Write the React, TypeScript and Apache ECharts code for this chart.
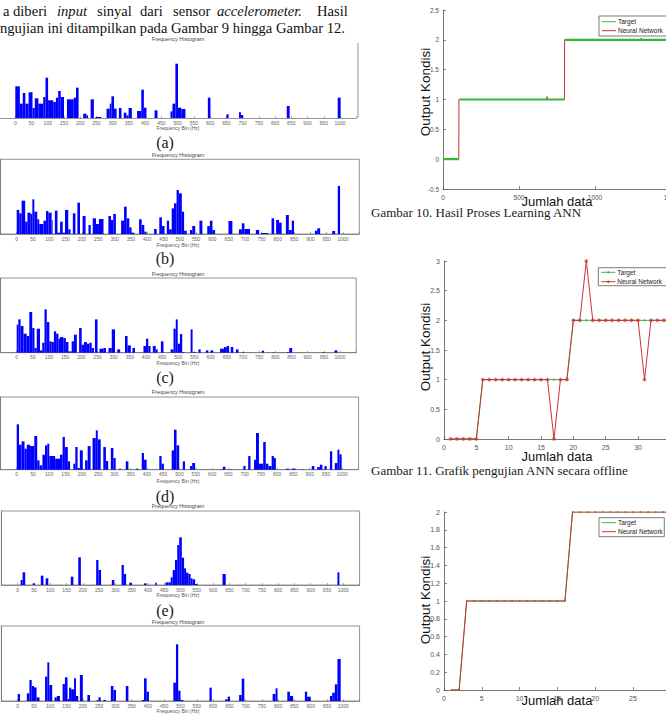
import React, { useEffect, useRef } from "react";
import * as echarts from "echarts";

// ---------- DATA ----------
// Histogram bars: [startHz, endHz, count]
const histA: number[][] = [
  [0, 14, 95], [14, 23, 43], [23, 31, 75], [31, 41, 43], [41, 53, 77], [53, 60, 30], [60, 71, 59], [71, 86, 43],
  [86, 93, 63], [93, 101, 121], [101, 117, 53], [117, 125, 48], [125, 132, 61], [132, 140, 81], [140, 150, 63],
  [159, 180, 56], [180, 187, 61], [187, 195, 91], [209, 219, 13], [219, 224, 8], [232, 242, 56], [247, 265, 3],
  [281, 291, 28], [291, 296, 43], [296, 304, 65], [304, 312, 28], [319, 327, 30], [334, 342, 16], [342, 349, 8],
  [349, 359, 30], [375, 388, 21], [388, 396, 85], [396, 404, 31], [429, 438, 23], [478, 484, 20], [484, 493, 43],
  [493, 501, 163], [501, 511, 31], [511, 524, 27], [593, 601, 61], [650, 657, 11], [689, 695, 17], [695, 702, 9],
  [836, 845, 36], [993, 1002, 61],
];
const histB: number[][] = [
  [0, 8, 72], [8, 15, 62], [15, 26, 100], [26, 33, 37], [33, 43, 64], [43, 48, 60], [48, 54, 104], [54, 63, 67],
  [63, 69, 44], [69, 82, 30], [82, 90, 40], [90, 97, 69], [97, 107, 64], [107, 110, 42], [117, 125, 70], [125, 133, 4],
  [133, 141, 37], [141, 148, 4], [148, 158, 72], [158, 165, 14], [172, 180, 62], [186, 194, 94], [202, 211, 54],
  [220, 227, 27], [233, 243, 47], [243, 252, 30], [252, 266, 45], [281, 289, 54], [289, 296, 42], [296, 304, 60],
  [320, 329, 40], [329, 337, 82], [337, 345, 47], [345, 352, 20], [352, 361, 4], [375, 383, 44], [383, 391, 27],
  [391, 398, 7], [421, 429, 15], [437, 445, 50], [445, 453, 24], [460, 467, 40], [467, 475, 14], [475, 482, 77],
  [482, 490, 92], [490, 497, 132], [497, 506, 122], [506, 513, 67], [513, 521, 10], [531, 538, 12], [538, 547, 24],
  [560, 569, 40], [584, 592, 24], [592, 600, 40], [600, 608, 12], [649, 661, 39], [681, 690, 14], [690, 698, 32],
  [698, 715, 15], [733, 743, 12], [749, 771, 3], [781, 789, 47], [795, 804, 42], [804, 812, 34], [825, 834, 57],
  [834, 843, 12], [843, 850, 40], [914, 921, 10], [921, 930, 17], [967, 976, 9], [984, 991, 144],
];
const histC: number[][] = [
  [0, 5, 84], [5, 12, 100], [12, 21, 80], [21, 31, 57], [31, 39, 50], [39, 48, 122], [48, 55, 74], [55, 62, 14],
  [62, 72, 72], [72, 79, 7], [79, 86, 30], [86, 93, 130], [93, 101, 92], [101, 108, 34], [108, 115, 32], [115, 122, 64],
  [122, 129, 57], [129, 134, 42], [134, 144, 47], [144, 152, 44], [152, 160, 32], [160, 170, 4], [170, 177, 34],
  [177, 186, 54], [193, 201, 74], [201, 208, 24], [208, 217, 32], [217, 225, 27], [225, 232, 30], [232, 239, 14],
  [242, 250, 100], [256, 268, 12], [268, 276, 14], [284, 294, 14], [294, 304, 70], [311, 320, 10], [335, 343, 50],
  [343, 353, 22], [358, 366, 14], [392, 400, 20], [400, 407, 42], [407, 414, 20], [421, 430, 20], [430, 436, 10],
  [446, 454, 34], [476, 485, 10], [485, 492, 72], [492, 498, 100], [498, 505, 27], [505, 512, 56], [512, 519, 2],
  [538, 544, 70], [546, 554, 2], [562, 569, 10], [585, 593, 7], [600, 608, 7], [629, 641, 12], [641, 650, 17],
  [650, 657, 20], [662, 670, 17], [678, 686, 10], [699, 703, 2], [758, 765, 6], [792, 796, 2], [835, 843, 2],
  [843, 852, 14], [946, 951, 2], [983, 992, 7],
];
const histD: number[][] = [
  [0, 7, 136], [7, 15, 75], [15, 24, 85], [24, 31, 63], [31, 41, 75], [41, 54, 71], [54, 63, 101], [63, 70, 28],
  [70, 79, 13], [79, 87, 45], [87, 94, 73], [94, 100, 78], [100, 118, 41], [118, 133, 33], [133, 141, 45],
  [141, 148, 98], [148, 157, 68], [157, 164, 25], [174, 180, 18], [180, 187, 68], [187, 194, 5], [194, 203, 58],
  [203, 210, 1], [210, 218, 28], [218, 227, 71], [233, 243, 95], [243, 249, 118], [249, 258, 91], [266, 274, 68],
  [274, 281, 26], [289, 297, 65], [297, 304, 35], [314, 320, 3], [335, 343, 25], [366, 374, 3], [384, 391, 50],
  [391, 399, 30], [438, 445, 41], [445, 452, 18], [476, 483, 58], [483, 491, 120], [491, 499, 73], [510, 517, 25],
  [532, 539, 11], [539, 548, 20], [624, 633, 1], [633, 641, 9], [655, 662, 1], [696, 703, 11], [711, 718, 41],
  [729, 735, 30], [735, 744, 110], [744, 757, 18], [757, 765, 83], [765, 773, 18], [773, 783, 11], [783, 790, 41],
  [790, 796, 35], [827, 837, 3], [844, 858, 3], [875, 882, 1], [906, 914, 11], [923, 931, 8], [931, 939, 15],
  [945, 952, 11], [962, 969, 55], [977, 985, 20], [985, 991, 60], [991, 998, 46],
];
const histE: number[][] = [
  [9, 15, 15], [15, 23, 38], [46, 53, 5], [71, 79, 28], [86, 94, 20], [163, 171, 25], [186, 194, 83], [241, 248, 75],
  [248, 256, 45], [289, 297, 15], [319, 326, 60], [326, 333, 33], [343, 351, 7], [388, 396, 5], [422, 427, 7],
  [454, 463, 8], [463, 470, 8], [470, 476, 23], [476, 483, 45], [483, 490, 75], [490, 496, 120], [496, 504, 143],
  [504, 511, 82], [511, 517, 50], [517, 524, 37], [524, 531, 33], [531, 537, 20], [537, 545, 17], [545, 552, 3],
  [629, 639, 33], [982, 988, 38],
];
const histF: number[][] = [
  [0, 7, 21], [28, 36, 23], [36, 43, 63], [43, 50, 45], [50, 58, 41], [58, 67, 11], [84, 91, 73], [91, 97, 116],
  [97, 106, 48], [113, 120, 11], [120, 130, 15], [138, 145, 51], [145, 153, 71], [153, 158, 6], [158, 164, 40],
  [164, 173, 35], [173, 179, 68], [179, 186, 15], [191, 200, 78], [214, 222, 18], [243, 248, 3], [248, 255, 11],
  [263, 271, 3], [286, 294, 45], [294, 302, 33], [332, 340, 45], [381, 388, 3], [388, 396, 68], [396, 403, 28],
  [478, 486, 55], [486, 493, 170], [493, 500, 31], [500, 509, 3], [589, 596, 40], [637, 645, 5], [645, 652, 13],
  [680, 688, 18], [688, 696, 67], [783, 792, 21], [792, 798, 38], [828, 836, 28], [836, 846, 15], [882, 889, 28],
  [889, 900, 13], [959, 966, 15], [966, 974, 25], [974, 982, 50], [982, 992, 126],
];
const histograms = [histA, histB, histC, histD, histE, histF];
const histCaptions = ["(a)", "(b)", "(c)", "(d)", "(e)", ""];
const histTitle = "Frequency Histogram";
const histXName = "Frequency Bin (Hz)";

// Gambar 10 (learning): [index, output]
const fig10Target: (number | null)[][] = [[0, 0], [104, 0], [104.5, null], [105, 1], [799, 1], [799.5, null], [800, 2], [1500, 2]];
const fig10NN: number[][] = [[0, 0], [104, 0], [105, 1], [683, 1], [684, 1.05], [685, 1], [799, 1], [800, 2], [1303, 2], [1304, 2.03], [1305, 1.98], [1306, 2], [1500, 2]];

// Gambar 11 (offline test)
const fig11X = [1, 2, 3, 4, 5, 6, 7, 8, 9, 10, 11, 12, 13, 14, 15, 16, 17, 18, 19, 20, 21, 22, 23, 24, 25, 26, 27, 28, 29, 30, 31, 32, 33, 34, 35];
const fig11Target = [0, 0, 0, 0, 0, 1, 1, 1, 1, 1, 1, 1, 1, 1, 1, 1, 1, 1, 1, 2, 2, 2, 2, 2, 2, 2, 2, 2, 2, 2, 2, 2, 2, 2, 2];
const fig11NN = [0, 0, 0, 0, 0, 1, 1, 1, 1, 1, 1, 1, 1, 1, 1, 1, 0, 1, 1, 2, 2, 3, 2, 2, 2, 2, 2, 2, 2, 2, 1, 2, 2, 2, 2];

// Gambar 12
const fig12X = [1, 2, 3, 4, 5, 6, 7, 8, 9, 10, 11, 12, 13, 14, 15, 16, 17, 18, 19, 20, 21, 22, 23, 24, 25, 26, 27, 28, 29, 30];
const fig12Target = [0, 0, 1, 1, 1, 1, 1, 1, 1, 1, 1, 1, 1, 1, 1, 1, 2, 2, 2, 2, 2, 2, 2, 2, 2, 2, 2, 2, 2, 2];
const fig12NN = [0, 0, 1, 1, 1, 1, 1, 1, 1, 1, 1, 1, 1, 1, 1, 1, 2, 2, 2, 2, 2, 2, 2, 2, 2, 2, 2, 2, 2, 2];

// ---------- LAYOUT ----------
const HIST_BOX = [
  { top: 43, base: 118, x0: 15.3, x1: 340, titleY: 38.5, nameY: 128, capY: 142, frame: false },
  { top: 159.3, base: 234, x0: 16.7, x1: 343, titleY: 154.7, nameY: 245, capY: 258, frame: true },
  { top: 278, base: 352.7, x0: 16.7, x1: 340, titleY: 274, nameY: 362.7, capY: 377, frame: true },
  { top: 397, base: 469.7, x0: 16.7, x1: 342.3, titleY: 391.5, nameY: 481, capY: 496, frame: true },
  { top: 511, base: 585, x0: 17.7, x1: 343.3, titleY: 506, nameY: 595, capY: 610, frame: true },
  { top: 626, base: 701, x0: 17.7, x1: 343.3, titleY: 622, nameY: 710.7, capY: 0, frame: true },
];
const LINE_BOX = [
  { left: 443, top: 10, width: 228, height: 179, xmax: 1500, xint: 500, ymin: -0.5, ymax: 2.5, yint: 0.5, fs: 6.5, ylab: 92, xlab: 201 },
  { left: 444, top: 261, width: 226.4, height: 178, xmax: 35, xint: 5, ymin: 0, ymax: 3, yint: 0.5, fs: 7, ylab: 347, xlab: 456 },
  { left: 444, top: 512, width: 226.8, height: 178, xmax: 30, xint: 5, ymin: 0, ymax: 2, yint: 0.2, fs: 7, ylab: 600, xlab: 700 },
];

const BLUE = "#0000ff";
const GREEN = "#35b935";
const RED = "#cc3333";
const SANS = '"Liberation Sans", Arial, sans-serif';
const SERIF = '"Liberation Serif", "Times New Roman", serif';

function txt(text: string, x: number, y: number, font: string, fill: string, align: string): any {
  return {
    type: "text",
    x,
    y,
    style: { text, font, fill, align, verticalAlign: "middle", textAlign: align, textVerticalAlign: "middle" },
  };
}

function buildOption() {
  const grid: any[] = [];
  const xAxis: any[] = [];
  const yAxis: any[] = [];
  const series: any[] = [];
  const graphic: any[] = [];

  HIST_BOX.forEach((b, i) => {
    const k = (b.x1 - b.x0) / 1000;
    grid.push({
      left: b.x0 - 50 * k,
      top: b.top,
      width: 1100 * k,
      height: b.base - b.top,
      show: b.frame,
      borderColor: "#777",
      borderWidth: 0.8,
      containLabel: false,
      outerBoundsMode: "none",
    });
    xAxis.push({
      type: "value",
      gridIndex: i,
      min: -50,
      max: 1050,
      interval: 50,
      axisLine: { show: true, onZero: false, lineStyle: { color: "#777", width: 0.8 } },
      axisTick: { show: true, inside: true, length: 2, lineStyle: { color: "#777", width: 0.6 } },
      axisLabel: {
        fontSize: 5,
        color: "#666",
        margin: 2,
        fontFamily: SANS,
        formatter: (v: number) => (v < 0 || v > 1000 ? "" : String(v)),
      },
      splitLine: { show: false },
    });
    yAxis.push({
      type: "value",
      gridIndex: i,
      min: 0,
      max: 3 * (b.base - b.top),
      axisLine: { show: b.frame, onZero: false, lineStyle: { color: "#777", width: 0.8 } },
      axisTick: { show: false },
      axisLabel: { show: false },
      splitLine: { show: false },
    });
    series.push({
      type: "custom",
      xAxisIndex: i,
      yAxisIndex: i,
      data: histograms[i],
      encode: { x: [0, 1], y: 2 },
      renderItem: (params: any, api: any) => {
        const p0 = api.coord([api.value(0), api.value(2)]);
        const p1 = api.coord([api.value(1), 0]);
        return {
          type: "rect",
          shape: { x: p0[0], y: p0[1], width: p1[0] - p0[0], height: p1[1] - p0[1] },
          style: { fill: BLUE },
        };
      },
    });
    graphic.push(txt(histTitle, 178, b.titleY, `5.5px ${SANS}`, "#444", "center"));
    graphic.push(txt(histXName, 178, b.nameY, `5px ${SANS}`, "#555", "center"));
    if (histCaptions[i]) graphic.push(txt(histCaptions[i], 165, b.capY, `16px ${SERIF}`, "#1a1a1a", "center"));
  });
  // right border of (a)
  graphic.push({ type: "line", shape: { x1: 358, y1: 43, x2: 358, y2: 118 }, style: { stroke: "#777", lineWidth: 0.8 } });

  LINE_BOX.forEach((b, j) => {
    const gi = 6 + j;
    grid.push({ left: b.left, top: b.top, width: b.width, height: b.height, show: false, containLabel: false, outerBoundsMode: "none" });
    xAxis.push({
      type: "value",
      gridIndex: gi,
      min: 0,
      max: b.xmax,
      interval: b.xint,
      axisLine: { show: true, onZero: false, lineStyle: { color: "#555", width: 0.8 } },
      axisTick: { show: true, inside: true, length: 3, lineStyle: { color: "#555", width: 0.7 } },
      axisLabel: { fontSize: b.fs, color: "#555", margin: 5, fontFamily: SANS, formatter: (v: number) => String(v) },
      splitLine: { show: false },
    });
    yAxis.push({
      type: "value",
      gridIndex: gi,
      min: b.ymin,
      max: b.ymax,
      interval: b.yint,
      axisLine: { show: true, onZero: false, lineStyle: { color: "#555", width: 0.8 } },
      axisTick: { show: true, inside: true, length: 3, lineStyle: { color: "#555", width: 0.7 } },
      axisLabel: { fontSize: b.fs, color: "#555", margin: 4, fontFamily: SANS },
      splitLine: { show: false },
    });
    graphic.push({
      type: "text",
      x: 425,
      y: b.ylab,
      rotation: Math.PI / 2,
      style: { text: "Output Kondisi", font: `13.5px ${SANS}`, fill: "#111", align: "center", verticalAlign: "middle", textAlign: "center", textVerticalAlign: "middle" },
    });
    graphic.push(txt("Jumlah data", 557, b.xlab, `13px ${SANS}`, "#111", "center"));
  });

  // Gambar 10 series
  series.push({
    type: "line", xAxisIndex: 6, yAxisIndex: 6, data: fig10NN, showSymbol: false, symbol: "none",
    lineStyle: { color: RED, width: 1 }, z: 2,
  });
  series.push({
    type: "line", xAxisIndex: 6, yAxisIndex: 6, data: fig10Target, showSymbol: false, symbol: "none",
    connectNulls: false, lineStyle: { color: GREEN, width: 2.2 }, z: 3,
  });
  // Gambar 11 series
  series.push({
    type: "line", xAxisIndex: 7, yAxisIndex: 7,
    data: fig11X.map((x, i) => [x, fig11Target[i]]),
    symbol: "path://M1 0L1 2M0 1L2 1", symbolSize: 3,
    itemStyle: { color: GREEN, borderColor: GREEN, borderWidth: 0.7 },
    lineStyle: { color: GREEN, width: 1 }, z: 2,
  });
  series.push({
    type: "line", xAxisIndex: 7, yAxisIndex: 7,
    data: fig11X.map((x, i) => [x, fig11NN[i]]),
    symbol: "path://M1 0L1 2M0 1L2 1M0.3 0.3L1.7 1.7M0.3 1.7L1.7 0.3", symbolSize: 4,
    itemStyle: { color: RED, borderColor: RED, borderWidth: 0.7 },
    lineStyle: { color: RED, width: 1 }, z: 3,
  });
  // Gambar 12 series
  series.push({
    type: "line", xAxisIndex: 8, yAxisIndex: 8,
    data: fig12X.map((x, i) => [x, fig12Target[i]]),
    symbol: "none", lineStyle: { color: GREEN, width: 1 }, z: 2,
  });
  series.push({
    type: "line", xAxisIndex: 8, yAxisIndex: 8,
    data: fig12X.map((x, i) => [x, fig12NN[i]]),
    symbol: "circle", symbolSize: 1.5,
    itemStyle: { color: RED },
    lineStyle: { color: RED, width: 1 }, z: 3,
  });

  // legends
  const legends = [
    { L: 599, T: 16, W: 72, H: 20, r1: 21.7, r2: 30.7, mk: false },
    { L: 598.3, T: 267.7, W: 72, H: 18, r1: 272.3, r2: 281.7, mk: true },
    { L: 599, T: 517.7, W: 65.3, H: 19, r1: 522.7, r2: 531.7, mk: false },
  ];
  legends.forEach((g) => {
    graphic.push({ type: "rect", z: 100, shape: { x: g.L, y: g.T, width: g.W, height: g.H }, style: { fill: "#fff", stroke: "#444", lineWidth: 0.7 } });
    graphic.push({ type: "line", z: 101, shape: { x1: g.L + 3, y1: g.r1, x2: g.L + 17, y2: g.r1 }, style: { stroke: GREEN, lineWidth: 1 } });
    graphic.push({ type: "line", z: 101, shape: { x1: g.L + 3, y1: g.r2, x2: g.L + 17, y2: g.r2 }, style: { stroke: RED, lineWidth: 1 } });
    if (g.mk) {
      graphic.push({ type: "circle", z: 102, shape: { cx: g.L + 10, cy: g.r1, r: 1 }, style: { fill: GREEN } });
      graphic.push({ type: "circle", z: 102, shape: { cx: g.L + 10, cy: g.r2, r: 1.2 }, style: { fill: RED } });
    }
    const t1 = txt("Target", g.L + 19, g.r1, `6.5px ${SANS}`, "#222", "left");
    const t2 = txt("Neural Network", g.L + 19, g.r2, `6.5px ${SANS}`, "#222", "left");
    t1.z = 102; t2.z = 102;
    graphic.push(t1, t2);
  });

  // captions on the right
  graphic.push(txt("Gambar 10. Hasil Proses Learning ANN", 371, 212, `13px ${SERIF}`, "#1a1a1a", "left"));
  graphic.push(txt("Gambar 11. Grafik pengujian ANN secara offline", 371, 470, `13px ${SERIF}`, "#1a1a1a", "left"));
  graphic.push(txt("Gambar 12. Grafik pengujian ANN secara online", 371, 721, `13px ${SERIF}`, "#1a1a1a", "left"));

  // body text at top-left
  const words: [string, number, boolean][] = [
    ["a", 3, false], ["diberi", 13, false], ["input", 57, true], ["sinyal", 97, false],
    ["dari", 140, false], ["sensor", 173, false], ["accelerometer.", 217, true], ["Hasil", 317, false],
  ];
  words.forEach(([w, x, it]) => graphic.push(txt(w, x, 10.5, `${it ? "italic " : ""}14.6px ${SERIF}`, "#111", "left")));
  graphic.push(txt("ngujian ini ditampilkan pada Gambar 9 hingga Gambar 12.", 0, 27.5, `14.6px ${SERIF}`, "#111", "left"));

  return { animation: false, backgroundColor: "#fff", grid, xAxis, yAxis, series, graphic };
}

export default function App() {
  const ref = useRef<HTMLDivElement>(null);
  useEffect(() => {
    if (!ref.current) return;
    const chart = echarts.init(ref.current, undefined, { renderer: "svg" });
    chart.setOption(buildOption() as any);
    return () => chart.dispose();
  }, []);
  return (
    <div
      ref={ref}
      style={{ position: "absolute", left: 0, top: 0, width: 666, height: 717, background: "#fff" }}
    />
  );
}
